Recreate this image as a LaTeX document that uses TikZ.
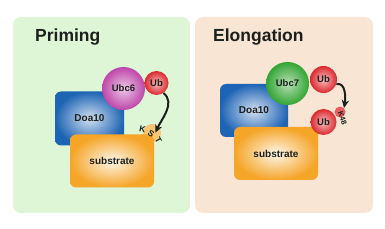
\documentclass[tikz,border=0pt]{standalone}
\usepackage{fontspec}
\setmainfont{Liberation Sans}
\usetikzlibrary{arrows.meta}
\definecolor{ink}{RGB}{28,32,28}
\definecolor{primebg}{RGB}{222,246,214}
\definecolor{elongbg}{RGB}{248,229,212}
\definecolor{doablue}{RGB}{30,100,180}
\definecolor{subor}{RGB}{245,165,40}
\definecolor{ubcpink}{RGB}{190,70,170}
\definecolor{ubcgreen}{RGB}{50,165,50}
\definecolor{ubred}{RGB}{220,40,45}
\tikzset{
  panel/.style={rounded corners=8pt,draw=none},
  title/.style={anchor=base west,inner sep=0pt,text=ink,
    font=\bfseries\fontsize{17.5}{20}\selectfont},
  prot/.style={rounded corners=6pt,shading=radial,inner sep=0pt,text=ink,
    font=\bfseries\fontsize{10}{12}\selectfont},
  ball/.style={circle,shading=radial,inner sep=0pt,text=ink,
    font=\bfseries\fontsize{9.5}{11}\selectfont},
  site/.style={inner sep=0pt,text=ink,font=\bfseries\fontsize{8.5}{9}\selectfont},
  arr/.style={-{Stealth[length=2.8mm,width=2.6mm]},line width=2pt,ink},
}
\begin{document}
\begin{tikzpicture}[x=1pt,y=-1pt]
  \useasboundingbox (0,0) rectangle (385,229);
  % panels
  \fill[panel,primebg] (13,17) rectangle (190,213);
  \fill[panel,elongbg] (195,17) rectangle (373,213);
  \node[title] (tprime) at (35,42) {Priming};
  \node[title] (telong) at (213,42) {Elongation};

  % priming
  \node[prot,inner color=doablue!20,outer color=doablue,
    minimum width=69pt,minimum height=54pt] (doa1) at (89.5,118.5) {Doa10};
  \node[ball,inner color=ubcpink!30,outer color=ubcpink,minimum size=43pt]
    (ubc6) at (123.5,88.5) {Ubc6};
  \node[circle,inner sep=0pt,minimum size=18pt,fill=subor!65] (kst) at (152,133) {};
  \node[prot,inner color=subor!10,outer color=subor,
    minimum width=84pt,minimum height=53pt] (sub1) at (112,161) {substrate};
  \node[site,rotate=-12] (kK) at (142.5,129) {K};
  \node[site,rotate=-35] (kS) at (151,133.5) {S};
  \node[site,rotate=-60] (kT) at (158.5,140.5) {T};
  \node[ball,inner color=ubred!30,outer color=ubred,minimum size=24pt]
    (ub1) at (156.5,83) {Ub};
  \draw[arr] (ub1.-55) to[out=-40,in=65] (kS.north east);

  % elongation
  \node[prot,inner color=doablue!20,outer color=doablue,
    minimum width=68pt,minimum height=53pt] (doa2) at (254,110.5) {Doa10};
  \node[ball,inner color=ubcgreen!35,outer color=ubcgreen,minimum size=43pt]
    (ubc7) at (287.5,83.5) {Ubc7};
  \node[prot,inner color=subor!10,outer color=subor,
    minimum width=84pt,minimum height=53pt] (sub2) at (276,153.5) {substrate};
  \node[circle,inner sep=0pt,minimum size=11pt,fill=ubred!75] (kdot) at (340,112) {};
  \node[ball,inner color=ubred!30,outer color=ubred,minimum size=26pt]
    (ub3) at (323.5,122) {Ub};
  \node[site,rotate=-72,font=\bfseries\fontsize{7.5}{8}\selectfont] (k48) at (342.5,118.5) {K48};
  \node[ball,inner color=ubred!30,outer color=ubred,minimum size=27pt]
    (ub2) at (323.5,79.5) {Ub};
  \draw[arr] (ub2.-20) to[out=15,in=80] (kdot.north east);
\end{tikzpicture}
\end{document}
